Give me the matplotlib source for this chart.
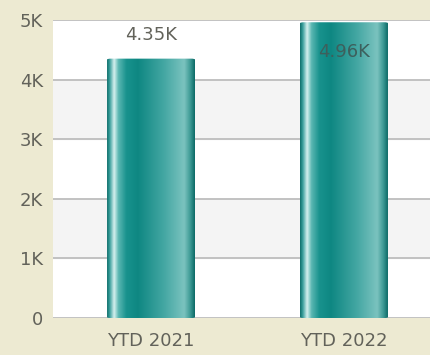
import numpy as np
import matplotlib
matplotlib.use("Agg")
import matplotlib.pyplot as plt
from matplotlib.colors import LinearSegmentedColormap
from matplotlib.patches import FancyBboxPatch

categories = ["YTD 2021", "YTD 2022"]
values = [4350, 4960]
value_labels = ["4.35K", "4.96K"]
yticks = [0, 1000, 2000, 3000, 4000, 5000]
ytick_labels = ["0", "1K", "2K", "3K", "4K", "5K"]

bg = "#EDEAD2"
text_color = "#62625a"

# horizontal shading across a bar, left edge to right edge
shade = LinearSegmentedColormap.from_list("cyl", [
    (0.00, "#0f706c"),
    (0.03, "#3a9f9c"),
    (0.08, "#d6f1ef"),
    (0.13, "#5ab7b2"),
    (0.22, "#18928d"),
    (0.35, "#0e8782"),
    (0.65, "#44a7a3"),
    (0.88, "#7bc3bf"),
    (0.95, "#3c9994"),
    (1.00, "#0d6b67"),
])

fig = plt.figure(figsize=(4.31, 3.55), dpi=100, facecolor=bg)
ax = fig.add_axes([0.123, 0.104, 0.877, 0.840])
ax.set_facecolor("white")

ax.set_ylim(0, 5000)
ax.set_xlim(-0.508, 1.451)

# alternating bands
for i, lo in enumerate(yticks[:-1]):
    if i % 2 == 1:
        ax.axhspan(lo, yticks[i + 1], color="#f4f4f4", zorder=0)
for t in yticks:
    ax.axhline(t, color="#bdbdbd", lw=1.3, zorder=1)

x = np.arange(len(categories))
width = 0.456
bars = ax.bar(x, values, width=width, color="none", zorder=2)

grad = np.linspace(0, 1, 256).reshape(1, -1)
for rect in bars:
    x0, y0 = rect.get_x(), rect.get_y()
    w, h = rect.get_width(), rect.get_height()
    clip = FancyBboxPatch((x0, y0), w, h, boxstyle="round,pad=0,rounding_size=0.02",
                          mutation_aspect=5000 / 1.96 * 0.84 * 3.55 / (0.877 * 4.31) / 2.5,
                          transform=ax.transData, facecolor="none", edgecolor="none")
    ax.add_patch(clip)
    im = ax.imshow(grad, cmap=shade, aspect="auto", extent=(x0, x0 + w, y0, y0 + h),
                   zorder=3, interpolation="bilinear")
    im.set_clip_path(clip)

# value labels: above the bar if there is room, otherwise inside
for xi, v, lab in zip(x, values, value_labels):
    if v + 500 < 5000:
        ax.text(xi, v + 400, lab, ha="center", va="center", fontsize=13,
                color=text_color, zorder=4)
    else:
        ax.text(xi, v - 500, lab, ha="center", va="center", fontsize=13,
                color="#3d5f5c", zorder=4)

ax.set_yticks(yticks)
ax.set_yticklabels(ytick_labels)
ax.set_xticks(x)
ax.set_xticklabels(categories)
ax.tick_params(length=0, labelsize=13, colors=text_color)
ax.tick_params(axis="y", pad=7)
ax.tick_params(axis="x", pad=10)
for s in ax.spines.values():
    s.set_visible(False)

fig.savefig("out.png", dpi=100, facecolor=bg)
